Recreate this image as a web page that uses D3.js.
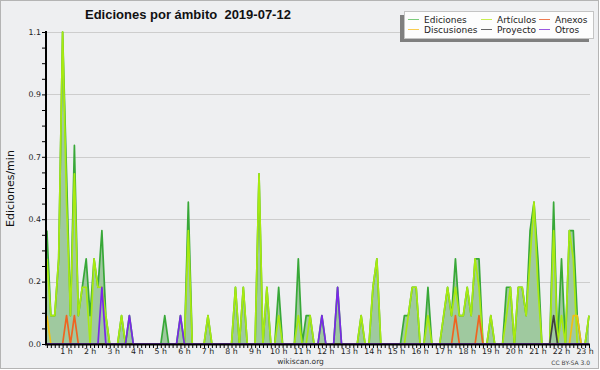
<!DOCTYPE html>
<html>
<head>
<meta charset="utf-8">
<script src="https://cdn.jsdelivr.net/npm/d3@7"></script>
<style>
body { margin: 0; background: #fff; }
svg { display: block; }
text { font-family: "DejaVu Sans", sans-serif; }
</style>
</head>
<body>
<div id="chart"></div>
<script>
var title = "Ediciones por ámbito  2019-07-12";
var yTitle = "Ediciones/min";

// one point every 10 minutes, first at 0:10
var firstMinute = 10;
var stepMinutes = 10;
var hours = d3.range(1, 24);

var ediciones = [
    0.4, 0.1, 0.1, 0.3, 1.1, 0.6, 0.1, 0.7, 0.1, 0.2,
    0.3, 0.1, 0.3, 0.2, 0.4, 0.1, 0, 0, 0, 0.1,
    0, 0.1, 0, 0, 0, 0, 0, 0, 0, 0,
    0.1, 0, 0, 0, 0.1, 0, 0.5, 0, 0, 0,
    0, 0.1, 0, 0, 0, 0, 0, 0, 0.2, 0,
    0.2, 0, 0, 0, 0.6, 0, 0.2, 0, 0, 0.2,
    0, 0, 0, 0, 0.3, 0, 0.1, 0.1, 0, 0,
    0.1, 0, 0, 0, 0.2, 0, 0, 0, 0, 0,
    0.1, 0, 0, 0.2, 0.3, 0, 0, 0, 0, 0,
    0, 0.1, 0.1, 0.2, 0.2, 0, 0, 0.2, 0, 0,
    0, 0.1, 0.2, 0.1, 0.3, 0.1, 0.1, 0.2, 0.1, 0.3,
    0.3, 0, 0, 0.1, 0, 0, 0, 0.2, 0.2, 0,
    0.2, 0.2, 0.1, 0.4, 0.5, 0.3, 0, 0, 0, 0.5,
    0, 0.3, 0, 0.4, 0.4, 0.1, 0, 0, 0.1
];

var articulos = [
    0.3, 0.1, 0.1, 0.3, 1.1, 0.5, 0.1, 0.6, 0.1, 0.2,
    0.2, 0, 0.3, 0.2, 0.2, 0.1, 0, 0, 0, 0.1,
    0, 0, 0, 0, 0, 0, 0, 0, 0, 0,
    0, 0, 0, 0, 0, 0, 0.4, 0, 0, 0,
    0, 0.1, 0, 0, 0, 0, 0, 0, 0.2, 0,
    0.2, 0, 0, 0, 0.6, 0, 0.2, 0, 0, 0.1,
    0, 0, 0, 0, 0.1, 0, 0, 0.1, 0, 0,
    0, 0, 0, 0, 0, 0, 0, 0, 0, 0,
    0.1, 0, 0, 0.2, 0.3, 0, 0, 0, 0, 0,
    0, 0, 0.1, 0.2, 0.2, 0, 0, 0.1, 0, 0,
    0, 0.1, 0.2, 0.1, 0.2, 0.1, 0.1, 0.2, 0.1, 0.3,
    0.2, 0, 0, 0.1, 0, 0, 0, 0.1, 0.2, 0,
    0.2, 0.2, 0.1, 0.3, 0.5, 0.2, 0, 0, 0, 0.4,
    0, 0.1, 0, 0.4, 0.3, 0, 0, 0, 0.1
];

var anexos = [
    0, 0, 0, 0, 0, 0.1, 0, 0.1, 0, 0,
    0, 0, 0, 0, 0, 0, 0, 0, 0, 0,
    0, 0, 0, 0, 0, 0, 0, 0, 0, 0,
    0, 0, 0, 0, 0, 0, 0, 0, 0, 0,
    0, 0, 0, 0, 0, 0, 0, 0, 0, 0,
    0, 0, 0, 0, 0, 0, 0, 0, 0, 0,
    0, 0, 0, 0, 0, 0, 0, 0, 0, 0,
    0, 0, 0, 0, 0, 0, 0, 0, 0, 0,
    0, 0, 0, 0, 0, 0, 0, 0, 0, 0,
    0, 0, 0, 0, 0, 0, 0, 0, 0, 0,
    0, 0, 0, 0, 0.1, 0, 0, 0, 0, 0,
    0.1, 0, 0, 0, 0, 0, 0, 0, 0, 0,
    0, 0, 0, 0, 0, 0, 0, 0, 0, 0,
    0, 0, 0, 0, 0, 0, 0, 0, 0
];

var discusiones = [
    0.1, 0, 0, 0, 0, 0, 0, 0, 0, 0,
    0, 0, 0, 0, 0, 0, 0, 0, 0, 0,
    0, 0, 0, 0, 0, 0, 0, 0, 0, 0,
    0, 0, 0, 0, 0, 0, 0, 0, 0, 0,
    0, 0, 0, 0, 0, 0, 0, 0, 0, 0,
    0, 0, 0, 0, 0, 0, 0, 0, 0, 0,
    0, 0, 0, 0, 0, 0, 0, 0, 0, 0,
    0, 0, 0, 0, 0, 0, 0, 0, 0, 0,
    0, 0, 0, 0, 0, 0, 0, 0, 0, 0,
    0, 0, 0, 0, 0, 0, 0, 0, 0, 0,
    0, 0, 0, 0, 0, 0, 0, 0, 0, 0,
    0, 0, 0, 0, 0, 0, 0, 0, 0, 0,
    0, 0, 0, 0, 0, 0, 0, 0, 0, 0,
    0, 0, 0, 0, 0.1, 0.1, 0, 0, 0
];

var proyecto = [
    0, 0, 0, 0, 0, 0, 0, 0, 0, 0,
    0, 0, 0, 0, 0, 0, 0, 0, 0, 0,
    0, 0, 0, 0, 0, 0, 0, 0, 0, 0,
    0, 0, 0, 0, 0, 0, 0, 0, 0, 0,
    0, 0, 0, 0, 0, 0, 0, 0, 0, 0,
    0, 0, 0, 0, 0, 0, 0, 0, 0, 0,
    0, 0, 0, 0, 0, 0, 0, 0, 0, 0,
    0, 0, 0, 0, 0, 0, 0, 0, 0, 0,
    0, 0, 0, 0, 0, 0, 0, 0, 0, 0,
    0, 0, 0, 0, 0, 0, 0, 0, 0, 0,
    0, 0, 0, 0, 0, 0, 0, 0, 0, 0,
    0, 0, 0, 0, 0, 0, 0, 0, 0, 0,
    0, 0, 0, 0, 0, 0, 0, 0, 0, 0.1,
    0, 0, 0, 0, 0, 0, 0, 0, 0
];

var otros = [
    0, 0, 0, 0, 0, 0, 0, 0, 0, 0,
    0, 0, 0, 0, 0.2, 0, 0, 0, 0, 0,
    0, 0.1, 0, 0, 0, 0, 0, 0, 0, 0,
    0, 0, 0, 0, 0.1, 0, 0, 0, 0, 0,
    0, 0, 0, 0, 0, 0, 0, 0, 0, 0,
    0, 0, 0, 0, 0, 0, 0, 0, 0, 0,
    0, 0, 0, 0, 0, 0, 0, 0, 0, 0,
    0.1, 0, 0, 0, 0.2, 0, 0, 0, 0, 0,
    0, 0, 0, 0, 0, 0, 0, 0, 0, 0,
    0, 0, 0, 0, 0, 0, 0, 0, 0, 0,
    0, 0, 0, 0, 0, 0, 0, 0, 0, 0,
    0, 0, 0, 0, 0, 0, 0, 0, 0, 0,
    0, 0, 0, 0, 0, 0, 0, 0, 0, 0,
    0, 0, 0, 0, 0, 0, 0, 0, 0
];

var series = [
    {name: "Ediciones", values: ediciones, color: "#38a838", legend: "#7ccc7c"},
    {name: "Artículos", values: articulos, color: "#a8ea10", legend: "#c8ee50"},
    {name: "Anexos", values: anexos, color: "#f06420", legend: "#ee7a50"},
    {name: "Discusiones", values: discusiones, color: "#f2c010", legend: "#f8cc50"},
    {name: "Proyecto", values: proyecto, color: "#404040", legend: "#666666"},
    {name: "Otros", values: otros, color: "#7a28e8", legend: "#9a58e0"}
];
var legendOrder = [
    ["Ediciones", "Artículos", "Anexos"],
    ["Discusiones", "Proyecto", "Otros"]
];

var minutes = ediciones.map(function(d, i) { return firstMinute + i * stepMinutes; });

var svg = d3.select("#chart").append("svg")
    .attr("width", 600)
    .attr("height", 370);

svg.append("rect")
    .attr("x", 0.5).attr("y", 0.5)
    .attr("width", 598).attr("height", 368)
    .attr("fill", "#eeeff1")
    .attr("stroke", "#b4b4b4");

var x = d3.scaleLinear()
    .domain([minutes[0], minutes[minutes.length - 1]])
    .range([46.9, 589]);

var y = d3.scaleLinear()
    .domain([0, 1.1])
    .range([344, 32]);

var majorTicks = d3.range(0, 6).map(function(k) { return +(k * 0.22).toFixed(2); });
var minorTicks = d3.range(0, 21).map(function(k) { return +(k * 0.055).toFixed(3); });

// grid
svg.append("g")
    .selectAll("line")
    .data(majorTicks.slice(1))
    .enter()
    .append("line")
    .attr("x1", 47).attr("x2", 590)
    .attr("y1", d => Math.round(y(d)) + 0.5)
    .attr("y2", d => Math.round(y(d)) + 0.5)
    .attr("stroke", "#cdcdcd");

// filled total
var area = d3.area()
    .x((d, i) => x(minutes[i]))
    .y0(y(0))
    .y1(d => y(d));

svg.append("path")
    .datum(ediciones)
    .attr("d", area)
    .attr("fill", "#9fc99f");

var line = d3.line()
    .x((d, i) => x(minutes[i]))
    .y(d => y(d));

svg.append("g")
    .selectAll("path")
    .data(series)
    .enter()
    .append("path")
    .attr("d", d => line(d.values))
    .attr("fill", "none")
    .attr("stroke", d => d.color)
    .attr("stroke-width", 1.7)
    .attr("stroke-linejoin", "round");

// y axis
var yMinor = d3.axisLeft(y).tickValues(minorTicks).tickSize(4).tickFormat("");
var gy = svg.append("g").attr("transform", "translate(46,0)").call(yMinor);
gy.select(".domain").remove();
gy.selectAll("line").attr("stroke", "#000");

svg.append("g")
    .selectAll("text")
    .data(majorTicks)
    .enter()
    .append("text")
    .attr("x", 41)
    .attr("y", d => y(d) + 2.8)
    .attr("text-anchor", "end")
    .style("font-size", "7.8px")
    .attr("fill", "#222")
    .text(d => d3.format(".1f")(d));

// x axis
var xMinor = d3.axisBottom(x).tickValues(minutes).tickSize(4).tickFormat("");
var gx = svg.append("g").attr("transform", "translate(0,344)").call(xMinor);
gx.select(".domain").remove();
gx.selectAll("line").attr("stroke", "#000");

svg.append("g")
    .selectAll("text")
    .data(hours)
    .enter()
    .append("text")
    .attr("x", d => x(d * 60))
    .attr("y", 353.5)
    .attr("text-anchor", "middle")
    .style("font-size", "7.8px")
    .attr("fill", "#222")
    .text(d => d + " h");

svg.append("line")
    .attr("x1", 46).attr("x2", 46)
    .attr("y1", 31).attr("y2", 345)
    .attr("stroke", "#000").attr("stroke-width", 2);
svg.append("line")
    .attr("x1", 45).attr("x2", 590)
    .attr("y1", 344.5).attr("y2", 344.5)
    .attr("stroke", "#000").attr("stroke-width", 2);

// titles
svg.append("text")
    .attr("x", 85)
    .attr("y", 18.5)
    .style("font-family", "'Liberation Sans', sans-serif")
    .style("font-weight", "bold")
    .style("font-size", "13px")
    .style("white-space", "pre")
    .attr("fill", "#111")
    .text(title);

svg.append("text")
    .attr("transform", "translate(13.5,188.5) rotate(-90)")
    .attr("text-anchor", "middle")
    .style("font-size", "11px")
    .attr("fill", "#111")
    .text(yTitle);

svg.append("text")
    .attr("x", 300.5)
    .attr("y", 364)
    .attr("text-anchor", "middle")
    .style("font-size", "7.5px")
    .attr("fill", "#333")
    .text("wikiscan.org");

svg.append("text")
    .attr("x", 590)
    .attr("y", 364.5)
    .attr("text-anchor", "end")
    .style("font-size", "6px")
    .attr("fill", "#444")
    .text("CC BY-SA 3.0");

// legend
var legend = svg.append("g");
legend.append("rect")
    .attr("x", 400).attr("y", 15)
    .attr("width", 189).attr("height", 27)
    .attr("fill", "#7f7f7f");
legend.append("rect")
    .attr("x", 404.5).attr("y", 11.5)
    .attr("width", 189).attr("height", 27)
    .attr("fill", "#fdfdfd")
    .attr("stroke", "#c4c4c4");

var colX = [408, 481, 539];
var rowY = [19.5, 29.5];
legendOrder.forEach(function(row, r) {
    row.forEach(function(name, c) {
        var s = series.find(d => d.name === name);
        legend.append("line")
            .attr("x1", colX[c]).attr("x2", colX[c] + 11)
            .attr("y1", rowY[r]).attr("y2", rowY[r])
            .attr("stroke", s.legend);
        legend.append("text")
            .attr("x", colX[c] + 16)
            .attr("y", rowY[r] + 3)
            .style("font-size", "9px")
            .attr("fill", "#222")
            .text(name);
    });
});
</script>
</body>
</html>
